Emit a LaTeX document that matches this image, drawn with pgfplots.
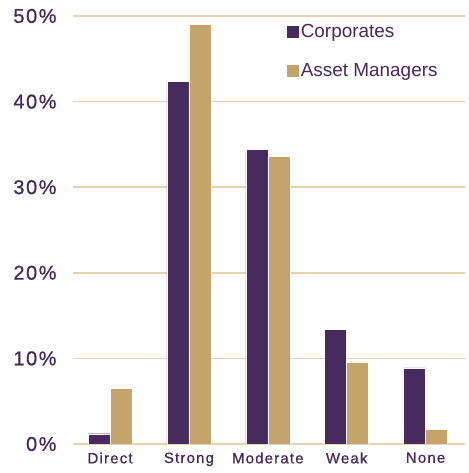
\documentclass[border=0pt]{standalone}
\usepackage{pgfplots}
\pgfplotsset{compat=1.18}
\usepackage{fontspec}
\setmainfont{Liberation Sans}
\newfontfamily\spaced[LetterSpace=8, FakeBold=0.8]{Liberation Sans}
\definecolor{corp}{HTML}{472A5E}
\definecolor{asset}{HTML}{C4A46A}
\definecolor{gridtan}{HTML}{E3D3B0}
\definecolor{txt}{HTML}{47295E}

\pgfplotstableread{
x label corp asset
0 Direct   1.2  6.5
1 Strong   42.4 49.0
2 Moderate 34.4 33.6
3 Weak     13.4 9.6
4 None     8.9  1.7
}\shares

\begin{document}
\begin{tikzpicture}
\begin{axis}[
	name=ax,
	scale only axis,
	width=392bp, height=428bp,
	ybar=0pt,
	bar width=22bp,
	xmin=-0.47, xmax=4.5,
	ymin=0, ymax=50,
	xtick=data,
	xticklabels from table={\shares}{label},
	ytick={0,10,20,30,40,50},
	yticklabel={\pgfmathprintnumber{\tick}\%},
	/pgf/number format/assume math mode=true,
	axis x line*=bottom,
	axis y line*=left,
	x axis line style={draw=gridtan, line width=2pt, -},
	y axis line style={draw=none},
	major tick length=0pt,
	ymajorgrids,
	grid style={draw=gridtan, line width=1.5pt},
	tick label style={text=txt},
	yticklabel style={font=\spaced\fontsize{20}{22}\selectfont, xshift=-13bp},
	xticklabel style={font=\spaced\fontsize{15}{17}\selectfont, yshift=-5bp},
	legend style={at={(rel axis cs:0.535,0.985)}, anchor=north west,
		draw=none, fill=none, row sep=24pt,
		font=\fontsize{19}{21}\selectfont, text=txt,
		nodes={inner xsep=1.5pt, inner ysep=0pt}},
	legend cell align=left,
	legend image code/.code={\fill[#1] (0bp,-6.5bp) rectangle (13bp,6.5bp);},
]
\addplot[fill=corp, draw=white, line width=0.4pt] table[x=x, y=corp] {\shares};
\addplot[fill=asset, draw=white, line width=0.4pt] table[x=x, y=asset] {\shares};
\legend{Corporates, Asset Managers}
\end{axis}
\path (ax.south west) ++(-73bp,-29bp) (ax.north east) ++(3bp,16bp);
\end{tikzpicture}
\end{document}
